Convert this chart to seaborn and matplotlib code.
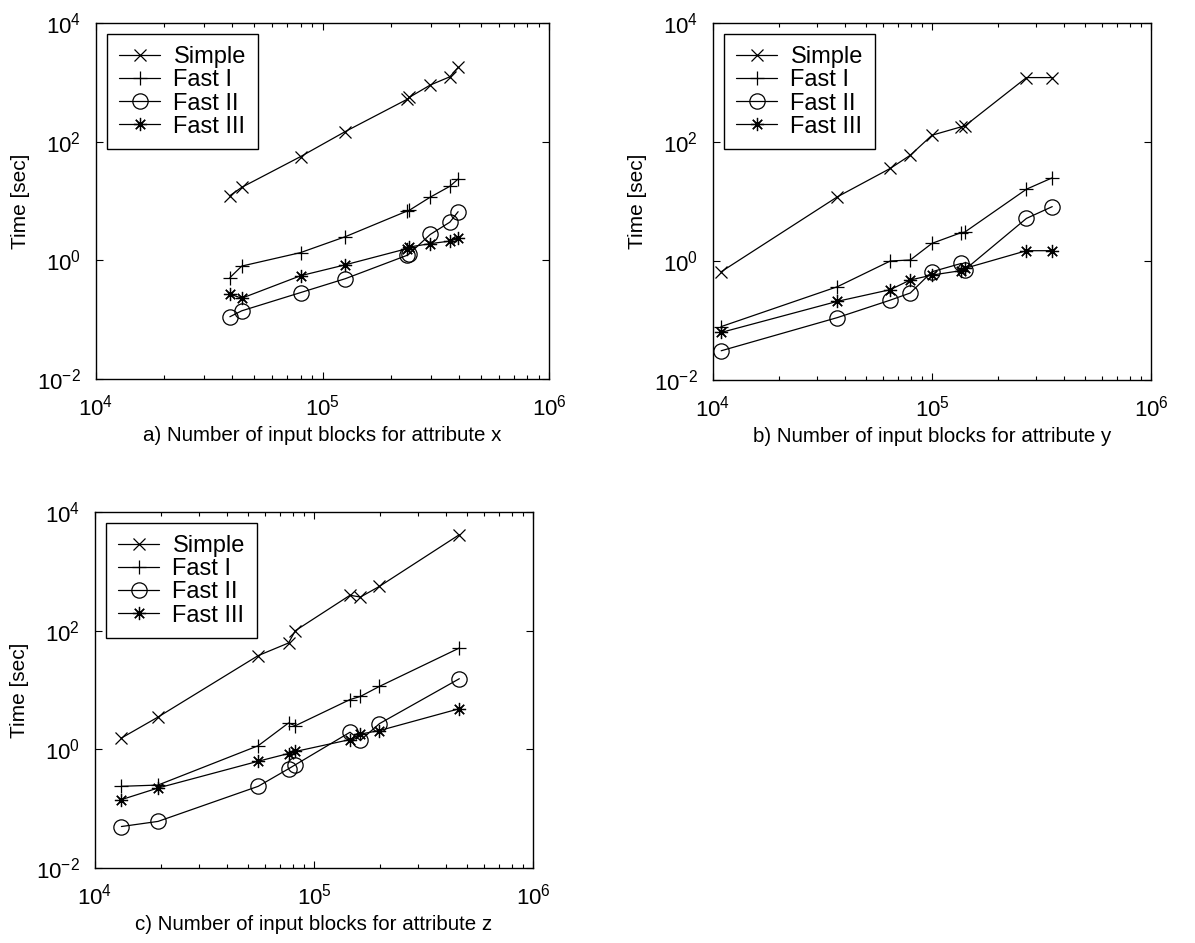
import matplotlib
matplotlib.use("Agg")
import matplotlib.pyplot as plt
import seaborn as sns
from matplotlib.ticker import LogLocator, NullLocator

# ---------------------------------------------------------------
# DATA
# ---------------------------------------------------------------
SERIES = ["Simple", "Fast I", "Fast II", "Fast III"]

# a) attribute x
A_X = [39000, 44000, 80000, 126000, 237000, 242000, 299000, 365000, 397000]
A_SIMPLE = [12.3, 17, 56, 148, 520, 560, 900, 1240, 1780]
A_FAST1 = [0.51, 0.80, 1.35, 2.5, 6.8, 7.0, 11.6, 17.7, 23.5]
A_FAST2 = [0.112, 0.141, 0.286, 0.49, 1.22, 1.30, 2.73, 4.4, 6.6]
A_FAST3 = [0.27, 0.23, 0.55, 0.84, 1.58, 1.68, 1.91, 2.11, 2.34]

# b) attribute y
B_X = [10900, 37000, 64500, 79600, 100000, 136000, 141000, 270000, 354000]
B_SIMPLE = [0.66, 12, 36, 60, 130, 180, 185, 1210, 1210]
B_FAST1 = [0.079, 0.37, 1.0, 1.04, 1.98, 3.0, 3.05, 16.1, 25]
B_FAST2 = [0.031, 0.112, 0.22, 0.29, 0.66, 0.91, 0.71, 5.2, 8.2]
B_FAST3 = [0.063, 0.21, 0.33, 0.48, 0.58, 0.69, 0.75, 1.49, 1.49]

# c) attribute z
C_X = [13200, 19400, 55600, 76500, 82200, 146000, 163000, 199000, 461000]
C_SIMPLE = [1.55, 3.5, 38, 62, 100, 395, 369, 558, 4150]
C_FAST1 = [0.238, 0.25, 1.15, 2.78, 2.5, 6.9, 7.8, 11.5, 51]
C_FAST2 = [0.050, 0.061, 0.238, 0.47, 0.55, 1.94, 1.42, 2.71, 15.5]
C_FAST3 = [0.142, 0.223, 0.63, 0.85, 0.92, 1.46, 1.81, 2.07, 4.84]

PANELS = [
    ("a) Number of input blocks for attribute x", A_X, [A_SIMPLE, A_FAST1, A_FAST2, A_FAST3]),
    ("b) Number of input blocks for attribute y", B_X, [B_SIMPLE, B_FAST1, B_FAST2, B_FAST3]),
    ("c) Number of input blocks for attribute z", C_X, [C_SIMPLE, C_FAST1, C_FAST2, C_FAST3]),
]

# ---------------------------------------------------------------
# STYLE
# ---------------------------------------------------------------
sns.set_style("ticks")
plt.rcParams["font.family"] = ["Liberation Sans", "DejaVu Sans"]
plt.rcParams["mathtext.default"] = "regular"
plt.rcParams["font.size"] = 15
plt.rcParams["text.color"] = "black"
plt.rcParams["axes.labelcolor"] = "black"
plt.rcParams["xtick.color"] = "black"
plt.rcParams["ytick.color"] = "black"

MARKERS = ["x", "+", "o", (8, 2, 0)]
MSIZES = [9, 10, 11, 9.5]

W, H = 1195, 943
# axes boxes in pixels: left, top, right, bottom
BOXES = [(96, 23, 549, 379), (713, 23, 1151, 380), (95, 512, 533, 868)]

fig = plt.figure(figsize=(W / 100, H / 100), dpi=100)

for (xlabel, xs, ys_list), (l, t, r, b) in zip(PANELS, BOXES):
    ax = fig.add_axes([l / W, 1 - b / H, (r - l) / W, (b - t) / H])
    for name, ys, mk, ms in zip(SERIES, ys_list, MARKERS, MSIZES):
        sns.lineplot(x=xs, y=ys, ax=ax, color="black", linewidth=0.9,
                     marker=mk, markersize=ms, markerfacecolor="none",
                     markeredgecolor="black", markeredgewidth=0.9,
                     label=name, sort=False, estimator=None)
    ax.set_xscale("log")
    ax.set_yscale("log")
    ax.set_xlim(1e4, 1e6)
    ax.set_ylim(1e-2, 1e4)
    ax.yaxis.set_major_locator(LogLocator(base=100.0))
    ax.yaxis.set_minor_locator(NullLocator())
    ax.xaxis.set_minor_locator(LogLocator(base=10.0, subs=range(2, 10)))
    ax.tick_params(which="both", direction="in", top=True, right=True,
                   colors="black", labelcolor="black", labelsize=16)
    ax.tick_params(which="major", length=5, width=0.8)
    ax.tick_params(axis="x", which="major", pad=11)
    ax.tick_params(axis="y", which="major", pad=11)
    ax.tick_params(which="minor", length=3, width=0.8)
    for sp in ax.spines.values():
        sp.set_visible(True)
        sp.set_color("black")
        sp.set_linewidth(1.0)
    ax.set_xlabel(xlabel, fontsize=14.8, labelpad=4.5, color="black")
    ax.set_ylabel("Time [sec]", fontsize=15, labelpad=5, color="black")
    leg = ax.legend(loc="upper left", fontsize=17, frameon=True, fancybox=False,
                    edgecolor="black", framealpha=1, borderaxespad=0.48,
                    handlelength=1.75, handletextpad=0.55, labelspacing=0.05,
                    borderpad=0.5)
    leg.get_frame().set_linewidth(1.0)
    for txt in leg.get_texts():
        txt.set_color("black")

fig.savefig("out.png", dpi=100, facecolor="white")
